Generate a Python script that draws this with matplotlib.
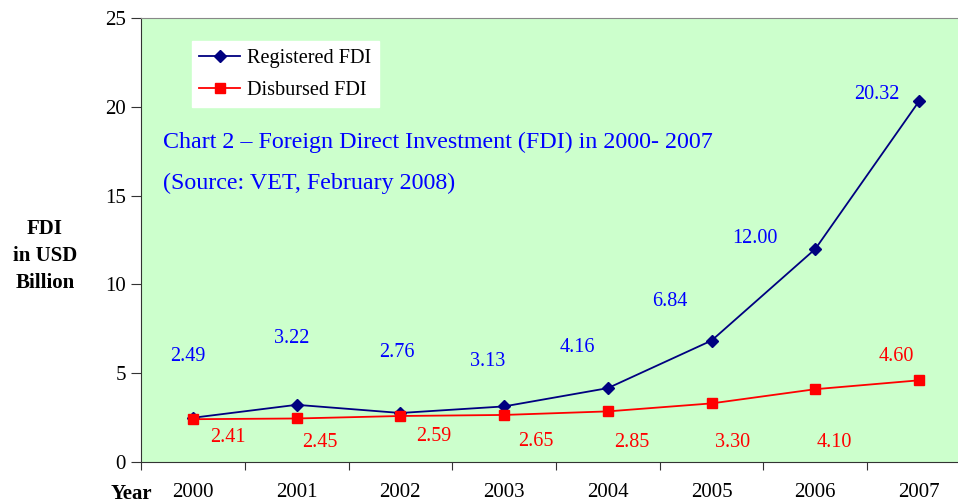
import numpy as np
import matplotlib.pyplot as plt

plt.rcParams['font.family'] = ['Liberation Serif', 'DejaVu Serif']

years = ['2000', '2001', '2002', '2003', '2004', '2005', '2006', '2007']
registered = [2.49, 3.22, 2.76, 3.13, 4.16, 6.84, 12.00, 20.32]
disbursed = [2.41, 2.45, 2.59, 2.65, 2.85, 3.30, 4.10, 4.60]

# label offsets (pixels) from each point
reg_off = [(-5, 61), (-5, 66), (-3, 60), (-16, 45), (-30, 41), (-42, 39), (-60, 10), (-42, 7)]
dis_off = [(35, -18), (23, -24), (33, -20), (32, -27), (24, -31), (21, -39), (19, -53), (-23, 24)]

fig = plt.figure(figsize=(9.58, 5.03), dpi=100)
ax = fig.add_axes([141 / 958, 41 / 503, 830 / 958, 444 / 503])
ax.set_facecolor('#CCFFCC')

x = np.arange(len(years))
ax.plot(x, registered, color='#000080', marker='D', markersize=6, lw=1.3, label='Registered FDI')
ax.plot(x, disbursed, color='#FF0000', marker='s', markersize=7, lw=1.3, label='Disbursed FDI')

for i in range(len(years)):
    ax.annotate(f'{registered[i]:.2f}', (x[i], registered[i]), xytext=reg_off[i],
                textcoords='offset pixels', ha='center', va='center', color='#0000FF', fontsize=14.5)
    ax.annotate(f'{disbursed[i]:.2f}', (x[i], disbursed[i]), xytext=dis_off[i],
                textcoords='offset pixels', ha='center', va='center', color='#FF0000', fontsize=14.5)

ax.set_xlim(-0.5, 7.5)
ax.set_ylim(0, 25)
ax.set_yticks([0, 5, 10, 15, 20, 25])
ax.set_xticks(np.arange(0, 8) - 0.5)
ax.set_xticklabels([])
ax.set_xticks(x, minor=True)
ax.set_xticklabels(years, minor=True)
ax.tick_params(axis='x', which='minor', length=0, pad=15, labelsize=15)
ax.tick_params(axis='x', which='major', length=6, direction='out', color='#333333')
ax.tick_params(axis='y', length=7, labelsize=15, pad=4, color='#333333')

ax.spines['left'].set_color('#333333')
ax.spines['bottom'].set_color('#333333')
ax.spines['top'].set_color('#888888')
ax.spines['right'].set_visible(False)

leg = ax.legend(loc='upper left', bbox_to_anchor=(0.061, 0.948), frameon=True, fontsize=14.6,
                fancybox=False, handlelength=2.0, handletextpad=0.35, borderpad=0.38,
                labelspacing=0.62, borderaxespad=0)
leg.get_frame().set_facecolor('white')
leg.get_frame().set_edgecolor('white')
leg.get_frame().set_alpha(1)

ax.text(0.026, 0.72, 'Chart 2 \u2013 Foreign Direct Investment (FDI) in 2000- 2007',
        transform=ax.transAxes, color='#0000FF', fontsize=17.3, va='center')
ax.text(0.026, 0.627, '(Source: VET, February 2008)',
        transform=ax.transAxes, color='#0000FF', fontsize=17.3, va='center')

fig.text(45 / 958, 1 - 256 / 503, 'FDI\nin USD\nBillion', ha='center', va='center',
         fontsize=15, fontweight='bold', linespacing=1.45)
fig.text(131 / 958, 1 - 494 / 503, 'Year', ha='center', va='center', fontsize=15, fontweight='bold')

fig.savefig('out.png', dpi=100)
